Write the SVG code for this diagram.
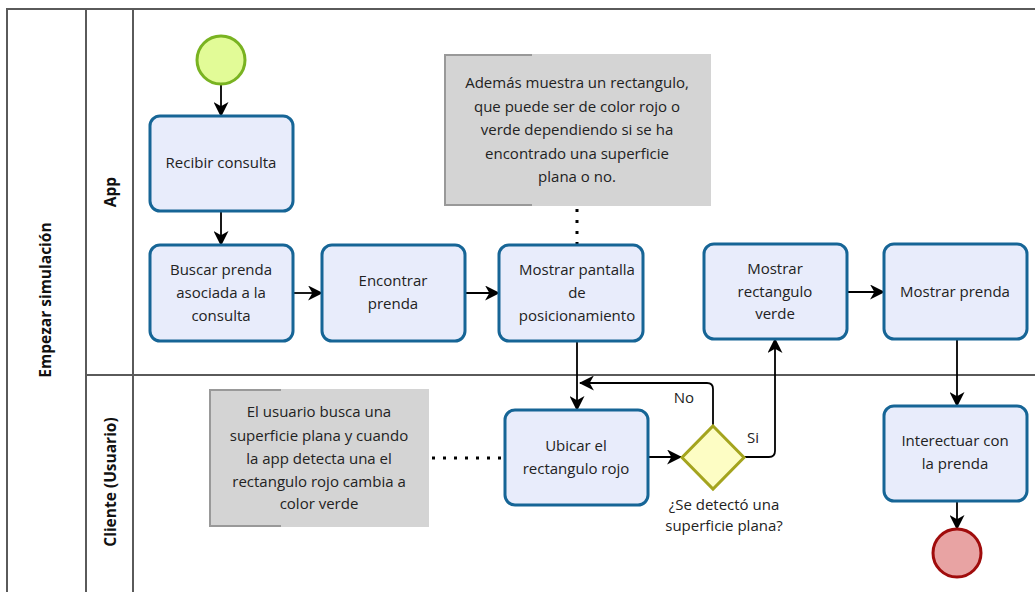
<svg xmlns="http://www.w3.org/2000/svg" width="1035" height="592" viewBox="0 0 1035 592">
<defs>
<style>
.lane{fill:none;stroke:#5a5a5a;stroke-width:2}
.task{fill:#e8ecfb;stroke:#166596;stroke-width:3}
.t{font-family:"Open Sans","Noto Sans",sans-serif;font-size:15px;fill:#222;text-anchor:middle}
.lbl{font-family:"Open Sans","Noto Sans",sans-serif;font-size:15.5px;font-weight:bold;fill:#111;text-anchor:middle}
.flow{fill:none;stroke:#000;stroke-width:1.8;marker-end:url(#arr)}
.assoc{fill:none;stroke:#000;stroke-width:3;stroke-dasharray:3 8}
.note{fill:#d4d4d4}
.br{fill:none;stroke:#999;stroke-width:2}
</style>
<marker id="arr" viewBox="0 0 14 14" refX="13" refY="7" markerWidth="15" markerHeight="15" markerUnits="userSpaceOnUse" orient="auto">
<path d="M0,0 L14,7 L0,14 L4,7 z" fill="#000"/>
</marker>
</defs>
<rect width="1035" height="592" fill="#fff"/>
<g id="pool">
<path class="lane" d="M1035,9 H7 V592 M86,9 V592 M133,9 V592 M86,375 H1035"/>
<text class="lbl" transform="translate(51,300) rotate(-90)">Empezar simulación</text>
<text class="lbl" transform="translate(116,192) rotate(-90)">App</text>
<text class="lbl" transform="translate(116,482) rotate(-90)">Cliente (Usuario)</text>
</g>
<g id="connectors">
<path class="flow" d="M221,84 V116"/>
<path class="flow" d="M221,211 V245"/>
<path class="flow" d="M293,293 H322"/>
<path class="flow" d="M465,293 H499"/>
<path class="flow" d="M577,341 V410"/>
<path class="flow" d="M713,426 V389 Q713,383 707,383 H580"/>
<path class="flow" d="M744,457 H769 Q775,457 775,451 V339"/>
<path class="flow" d="M648,457 H681"/>
<path class="flow" d="M847,292 H884"/>
<path class="flow" d="M957,339 V406"/>
<path class="flow" d="M957,501 V529"/>
<path class="assoc" d="M577,209 V245"/>
<path class="assoc" d="M432,458 H505"/>
<text class="t" x="684" y="403">No</text>
<text class="t" x="753" y="443">Si</text>
</g>
<g id="start"><circle cx="221" cy="60" r="24" fill="#e2fb97" stroke="#79b321" stroke-width="3"/></g>
<g id="recibir"><rect class="task" x="150" y="116" width="143" height="95" rx="10"/><text class="t" x="221" y="168">Recibir consulta</text></g>
<g id="buscar"><rect class="task" x="150" y="245" width="143" height="96" rx="10"/><text class="t" x="221" y="275">Buscar prenda</text><text class="t" x="221" y="298">asociada a la</text><text class="t" x="221" y="321">consulta</text></g>
<g id="encontrar"><rect class="task" x="322" y="245" width="143" height="96" rx="10"/><text class="t" x="393" y="286">Encontrar</text><text class="t" x="393" y="309">prenda</text></g>
<g id="mostrarPantalla"><rect class="task" x="499" y="245" width="144" height="96" rx="10"/><text class="t" x="577" y="275">Mostrar pantalla</text><text class="t" x="577" y="298">de</text><text class="t" x="577" y="321">posicionamiento</text></g>
<g id="nota1"><rect class="note" x="444" y="54" width="267" height="152"/><path class="br" d="M532,55 H445 V205 H532"/>
<text class="t" x="577" y="88">Además muestra un rectangulo,</text><text class="t" x="577" y="112">que puede ser de color rojo o</text><text class="t" x="577" y="135">verde dependiendo si se ha</text><text class="t" x="577" y="159">encontrado una superficie</text><text class="t" x="577" y="182">plana o no.</text></g>
<g id="mostrarVerde"><rect class="task" x="704" y="244" width="143" height="95" rx="10"/><text class="t" x="775" y="274">Mostrar</text><text class="t" x="775" y="297">rectangulo</text><text class="t" x="775" y="319">verde</text></g>
<g id="mostrarPrenda"><rect class="task" x="884" y="244" width="143" height="95" rx="10"/><text class="t" x="955" y="297">Mostrar prenda</text></g>
<g id="nota2"><rect class="note" x="209" y="389" width="220" height="138"/><path class="br" d="M281,390 H210 V526 H281"/>
<text class="t" x="319" y="417">El usuario busca una</text><text class="t" x="319" y="441">superficie plana y cuando</text><text class="t" x="319" y="464">la app detecta una el</text><text class="t" x="319" y="487">rectangulo rojo cambia a</text><text class="t" x="319" y="509">color verde</text></g>
<g id="ubicar"><rect class="task" x="505" y="410" width="143" height="95" rx="10"/><text class="t" x="576" y="451">Ubicar el</text><text class="t" x="576" y="474">rectangulo rojo</text></g>
<g id="gateway"><path d="M713,426 L744,457.5 L713,489 L682,457.5 z" fill="#fdfdc4" stroke="#a4a41e" stroke-width="3"/>
<text class="t" x="724" y="510">¿Se detectó una</text><text class="t" x="724" y="531">superficie plana?</text></g>
<g id="interectuar"><rect class="task" x="884" y="406" width="143" height="95" rx="10"/><text class="t" x="955" y="446">Interectuar con</text><text class="t" x="955" y="469">la prenda</text></g>
<g id="end"><circle cx="957" cy="553" r="24" fill="#e8a3a3" stroke="#a00c0c" stroke-width="3"/></g>
</svg>
